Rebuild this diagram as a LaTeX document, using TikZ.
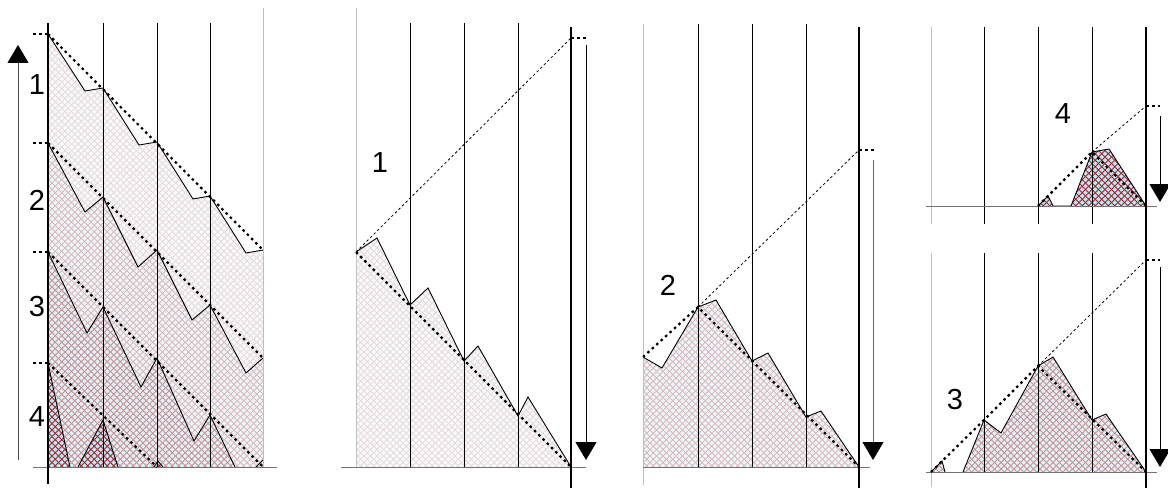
\documentclass[tikz,border=0pt]{standalone}
\usepackage{fontspec}
\setmainfont{Liberation Sans}
\usetikzlibrary{arrows.meta,patterns}

\definecolor{bgblue}{RGB}{196,226,244}
\definecolor{hatchred}{RGB}{150,45,45}

\pgfdeclarepatternformonly{xhatch}{\pgfqpoint{-1pt}{-1pt}}{\pgfqpoint{7.5pt}{7.5pt}}{\pgfqpoint{6.5pt}{6.5pt}}{%
  \pgfsetlinewidth{0.8pt}
  \pgfpathmoveto{\pgfqpoint{0pt}{0pt}}\pgfpathlineto{\pgfqpoint{6.5pt}{6.5pt}}
  \pgfpathmoveto{\pgfqpoint{0pt}{6.5pt}}\pgfpathlineto{\pgfqpoint{6.5pt}{0pt}}
  \pgfusepath{stroke}}

% level shade: background tint and hatch colour, both mixed with white
\newcommand{\hatchregion}[2]{%
  \fill[bgblue!#1] #2;
  \fill[pattern=xhatch,pattern color=hatchred!#1] #2;}

\begin{document}
\begin{tikzpicture}[x=1pt,y=-1pt,>={Triangle[length=18pt,width=21pt,color=black]},
    colline/.style={line width=1pt},
    edgeline/.style={line width=1pt,black!25},
    axisline/.style={line width=2.6pt},
    groundline/.style={line width=1pt,black!55},
    sawline/.style={line width=0.9pt},
    fineguide/.style={line width=0.8pt,dash pattern=on 2.5pt off 2.5pt},
    thickguide/.style={line width=2.2pt,dash pattern=on 2.5pt off 3.5pt},
    levelarrow/.style={->,line width=1pt},
    lvl/.style={font=\fontsize{29}{34}\selectfont}]
    \useasboundingbox (0,0) rectangle (1168,495);

    % left panel: the four stacked levels
    \hatchregion{18}{(48,34) -- (85,91) -- (103,88) -- (139,145) -- (157,142) -- (193,199) -- (210,196) -- (246,253) -- (263,250) -- (263,467) -- (48,467) -- cycle}
    \hatchregion{33}{(48,143) -- (85,212) -- (103,197) -- (138,267) -- (157,250) -- (192,320) -- (210,305) -- (246,373) -- (263,358) -- (263,467) -- (48,467) -- cycle}
    \hatchregion{52}{(48,252) -- (87,333) -- (103,307) -- (141,387) -- (157,358) -- (194,441) -- (210,415) -- (235,467) -- (256,467) -- (263,460) -- (263,467) -- (48,467) -- cycle}
    \hatchregion{100}{(48,363) -- (70,467) -- (48,467) -- cycle (78,467) -- (103,420) -- (118,467) -- cycle (154,467) -- (158,461) -- (163,467) -- cycle}
    \draw[sawline] (48,34) -- (85,91) -- (103,88) -- (139,145) -- (157,142) -- (193,199) -- (210,196) -- (246,253) -- (263,250);
    \draw[sawline] (48,143) -- (85,212) -- (103,197) -- (138,267) -- (157,250) -- (192,320) -- (210,305) -- (246,373) -- (263,358);
    \draw[sawline] (48,252) -- (87,333) -- (103,307) -- (141,387) -- (157,358) -- (194,441) -- (210,415) -- (235,467) (256,467) -- (263,460);
    \draw[sawline] (48,363) -- (70,467) (78,467) -- (103,420) -- (118,467) (154,467) -- (158,461) -- (163,467);
    \foreach \x in {103,157,210} \draw[colline] (\x,23) -- (\x,467);
    \draw[edgeline] (263,8) -- (263,467);
    \draw[groundline] (33,467) -- (277,467);
    \draw[axisline] (48,23) -- (48,484);
    \foreach \y in {34,143,252,363} \draw[thickguide] (33,\y) -- (48,\y);
    \draw[thickguide] (48,34) -- (263,250);
    \draw[thickguide] (48,143) -- (263,358);
    \draw[thickguide] (48,252) -- (263,467);
    \draw[thickguide] (48,363) -- (157,467);
    \node[lvl] (lA) at (37,85) {1};
    \node[lvl] (lB) at (37,200) {2};
    \node[lvl] (lC) at (37,307) {3};
    \node[lvl] (lD) at (37,417) {4};
    \coordinate (upS) at (18,460);
    \coordinate (upE) at (18,45);
    \draw[levelarrow,black!70] (upS) -- (upE);

    % level 1
    \hatchregion{18}{(356,252) -- (377,238) -- (410,305) -- (428,288) -- (464,361) -- (478,346) -- (518,416) -- (528,397) -- (571,467) -- (356,467) -- cycle}
    \draw[sawline] (356,252) -- (377,238) -- (410,305) -- (428,288) -- (464,361) -- (478,346) -- (518,416) -- (528,397) -- (571,467);
    \draw[edgeline] (356,8) -- (356,467);
    \foreach \x in {410,464,518} \draw[colline] (\x,23) -- (\x,467);
    \draw[groundline] (341,467) -- (586,467);
    \draw[axisline] (571,27) -- (571,488);
    \draw[fineguide] (356,252) -- (571,38);
    \draw[thickguide] (571,38) -- (587,38);
    \draw[thickguide] (356,252) -- (571,467);
    \node[lvl] (pA) at (380,163) {1};
    \coordinate (dnA) at (586,45);
    \coordinate (dnAe) at (586,460);
    \draw[levelarrow] (dnA) -- (dnAe);

    % level 2
    \hatchregion{33}{(643,357) -- (662,368) -- (698,307) -- (716,300) -- (752,361) -- (768,353) -- (806,417) -- (821,411) -- (859,467) -- (643,467) -- cycle}
    \draw[sawline] (643,357) -- (662,368) -- (698,307) -- (716,300) -- (752,361) -- (768,353) -- (806,417) -- (821,411) -- (859,467);
    \draw[edgeline] (643,24) -- (643,485);
    \foreach \x in {698,752,806} \draw[colline] (\x,24) -- (\x,467);
    \draw[groundline] (643,467) -- (870,467);
    \draw[axisline] (859,27) -- (859,488);
    \draw[fineguide] (698,307) -- (859,150);
    \draw[thickguide] (859,150) -- (874,150);
    \draw[thickguide] (643,357) -- (698,307) -- (859,467);
    \node[lvl] (pB) at (668,285) {2};
    \coordinate (dnB) at (873,160);
    \coordinate (dnBe) at (873,460);
    \draw[levelarrow,black!60] (dnB) -- (dnBe);

    % level 4
    \hatchregion{100}{(1038,206) -- (1048,196) -- (1053,206) -- cycle (1071,206) -- (1092,152) -- (1109,149) -- (1146,206) -- cycle}
    \draw[sawline] (1038,206) -- (1048,196) -- (1053,206) -- (1071,206) -- (1092,152) -- (1109,149) -- (1146,206);
    \draw[edgeline] (931,27) -- (931,224);
    \foreach \x in {984,1038,1092} \draw[colline] (\x,27) -- (\x,224);
    \draw[groundline] (926,206) -- (1157,206);
    \draw[fineguide] (1092,152) -- (1146,106);
    \draw[thickguide] (1146,106) -- (1160,106);
    \draw[thickguide] (1038,206) -- (1092,152) -- (1146,206);
    \node[lvl] (pD) at (1063,114) {4};
    \coordinate (dnD) at (1160,116);
    \coordinate (dnDe) at (1160,202);
    \draw[levelarrow] (dnD) -- (dnDe);

    % level 3
    \hatchregion{52}{(931,472) -- (942,461) -- (945,472) -- cycle (963,472) -- (984,420) -- (1001,433) -- (1038,366) -- (1053,357) -- (1092,420) -- (1106,414) -- (1146,472) -- cycle}
    \draw[sawline] (931,472) -- (942,461) -- (945,472) (963,472) -- (984,420) -- (1001,433) -- (1038,366) -- (1053,357) -- (1092,420) -- (1106,414) -- (1146,472);
    \draw[edgeline] (931,253) -- (931,487);
    \foreach \x in {984,1038,1092} \draw[colline] (\x,253) -- (\x,472);
    \draw[groundline] (926,472) -- (1157,472);
    \draw[fineguide] (1038,366) -- (1146,260);
    \draw[thickguide] (1146,260) -- (1160,260);
    \draw[thickguide] (931,472) -- (984,420) -- (1038,366) -- (1146,472);
    \node[lvl] (pC) at (955,400) {3};
    \coordinate (dnC) at (1160,267);
    \coordinate (dnCe) at (1160,467);
    \draw[levelarrow] (dnC) -- (dnCe);

    \draw[axisline] (1146,27) -- (1146,488);
\end{tikzpicture}
\end{document}
